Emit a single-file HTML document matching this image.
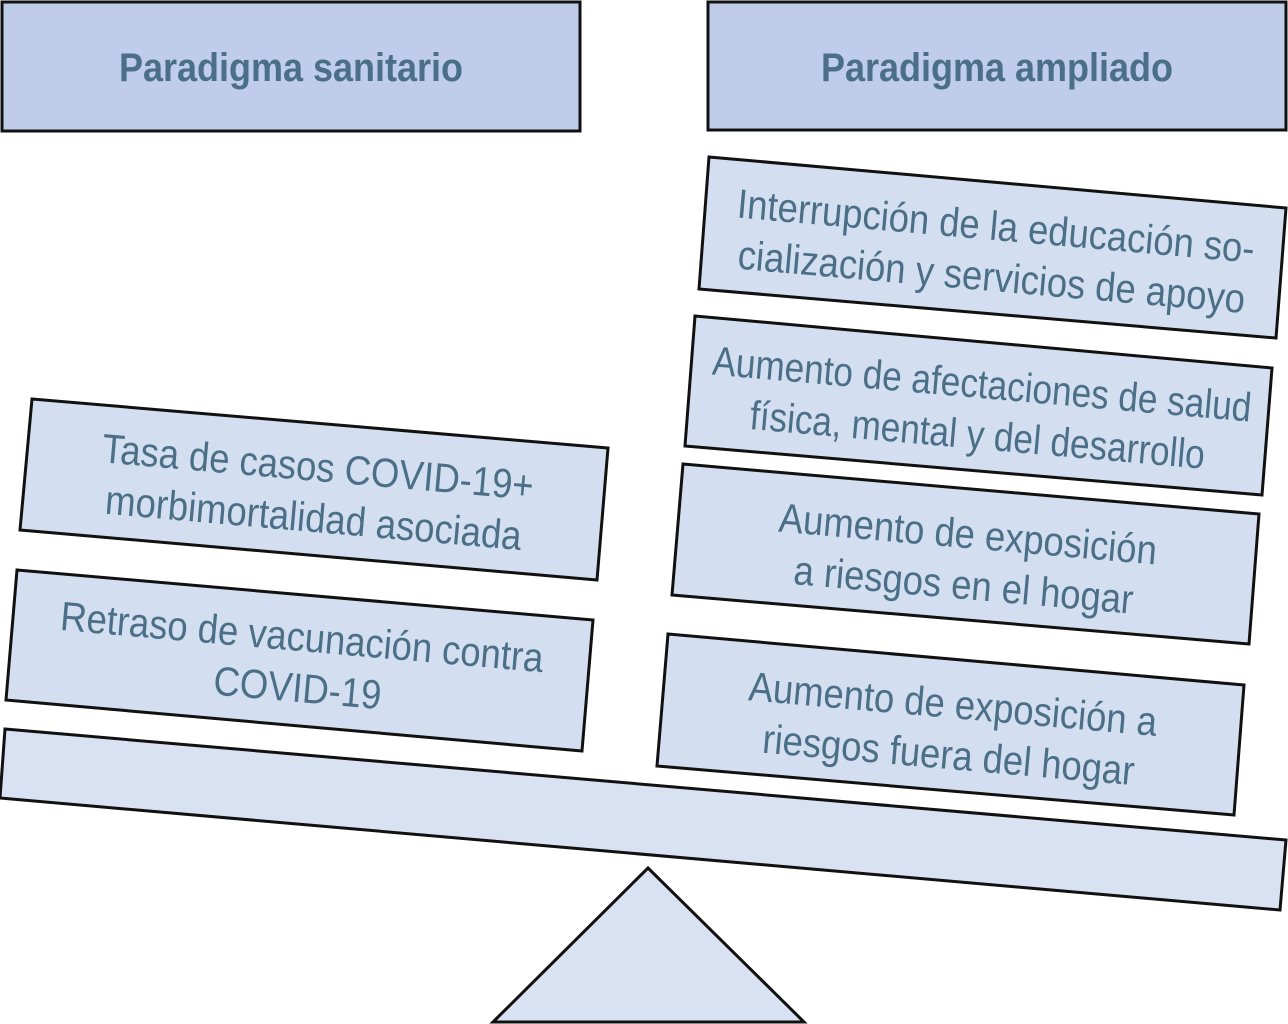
<!DOCTYPE html>
<html><head><meta charset="utf-8"><style>html,body{margin:0;padding:0;background:#fff}svg{display:block}</style></head>
<body>
<svg width="1288" height="1024" viewBox="0 0 1288 1024" xmlns="http://www.w3.org/2000/svg" font-family="Liberation Sans, Arial, sans-serif">
<g stroke="#111" stroke-width="3">
<rect x="2" y="2" width="578" height="129" fill="#bfcdea"/>
<rect x="708" y="2" width="578" height="128" fill="#bfcdea"/>
<polygon points="709,157 1286,208 1276,338 699,289" fill="#d3dff0"/>
<polygon points="695,316 1272,368 1262,495 685,446" fill="#d3dff0"/>
<polygon points="683,464 1259,514 1249,644 672,595" fill="#d3dff0"/>
<polygon points="668,634 1244,685 1234,815 657,766" fill="#d3dff0"/>
<polygon points="32,399 608,448 597,580 20,530" fill="#d3dff0"/>
<polygon points="17,570 593,620 582,751 6,700" fill="#d3dff0"/>
<polygon points="5,729 1286,840 1280,910 0,798" fill="#d9e2f3"/>
<polygon points="648,868 804,1022 493,1022" fill="#d9e2f3"/>
</g>
<g fill="#4a6f86" font-weight="bold" font-size="40" text-anchor="middle">
<text transform="translate(291,81) scale(0.9,1)">Paradigma sanitario</text>
<text transform="translate(997,81) scale(0.9,1)">Paradigma ampliado</text>
</g>
<g fill="#4a6f86" font-size="41" text-anchor="middle">
<g transform="translate(994,249) rotate(5)">
<text transform="translate(0,-9) scale(0.89,1)">Interrupción de la educación so-</text>
<text transform="translate(0,42) scale(0.89,1)">cialización y servicios de apoyo</text>
</g>
<g transform="translate(980,407) rotate(5)">
<text transform="translate(0,-9) scale(0.86,1)">Aumento de afectaciones de salud</text>
<text transform="translate(0,42) scale(0.86,1)">física, mental y del desarrollo</text>
</g>
<g transform="translate(966,557) rotate(5)">
<text transform="translate(0,-9) scale(0.89,1)">Aumento de exposición</text>
<text transform="translate(0,42) scale(0.89,1)">a riesgos en el hogar</text>
</g>
<g transform="translate(951,727) rotate(5)">
<text transform="translate(0,-9) scale(0.89,1)">Aumento de exposición a</text>
<text transform="translate(0,42) scale(0.89,1)">riesgos fuera del hogar</text>
</g>
<g transform="translate(316,490) rotate(5)">
<text transform="translate(0,-9) scale(0.89,1)">Tasa de casos COVID-19+</text>
<text transform="translate(0,42) scale(0.89,1)">morbimortalidad asociada</text>
</g>
<g transform="translate(300,660) rotate(5)">
<text transform="translate(0,-9) scale(0.89,1)">Retraso de vacunación contra</text>
<text transform="translate(0,42) scale(0.89,1)">COVID-19</text>
</g>
</g>
</svg>
</body></html>
